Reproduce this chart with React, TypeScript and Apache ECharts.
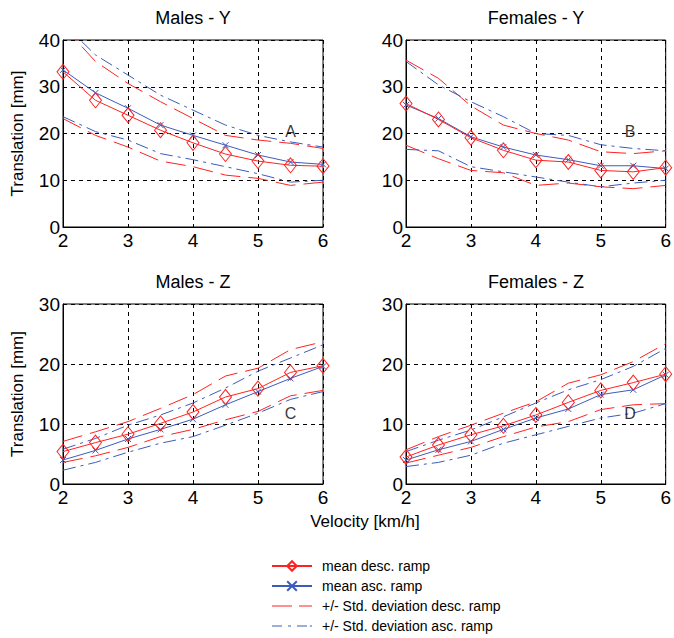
import React, { useEffect, useRef } from "react";
import * as echarts from "echarts";

// Walking velocity steps [km/h]
const VELOCITY = [2, 2.5, 3, 3.5, 4, 4.5, 5, 5.5, 6];

// Males - Y translation [mm]
const MY_DESC_MEAN = [33.2, 27.1, 23.9, 20.7, 18.0, 15.6, 14.1, 13.2, 13.0];
const MY_ASC_MEAN = [33.6, 28.7, 25.4, 21.8, 19.6, 17.5, 15.4, 13.9, 13.4];
const MY_DESC_UP = [43.0, 35.4, 30.7, 26.8, 23.2, 19.6, 18.6, 17.9, 16.8];
const MY_DESC_LO = [23.2, 19.6, 17.1, 14.1, 12.9, 11.1, 10.4, 8.9, 9.6];
const MY_ASC_UP = [43.6, 36.8, 32.5, 28.2, 25.0, 21.8, 19.6, 18.2, 17.1];
const MY_ASC_LO = [23.6, 20.4, 18.6, 15.7, 14.4, 12.9, 11.4, 9.6, 10.0];

// Females - Y translation [mm]
const FY_DESC_MEAN = [26.4, 23.0, 19.1, 16.4, 14.3, 13.9, 12.1, 11.8, 12.7];
const FY_ASC_MEAN = [26.1, 23.2, 19.3, 17.1, 15.4, 14.4, 13.1, 13.1, 12.5];
const FY_DESC_UP = [35.7, 31.8, 25.9, 21.8, 20.0, 18.6, 16.1, 15.7, 16.3];
const FY_DESC_LO = [17.5, 14.6, 12.1, 11.6, 8.9, 9.4, 8.6, 8.2, 8.9];
const FY_ASC_UP = [35.4, 30.4, 26.8, 23.6, 20.0, 19.6, 17.6, 16.8, 16.3];
const FY_ASC_LO = [16.6, 16.3, 12.9, 11.8, 10.7, 9.6, 8.6, 9.4, 10.0];

// Males - Z translation [mm]
const MZ_DESC_MEAN = [5.4, 6.9, 8.3, 10.1, 12.0, 14.5, 15.9, 18.6, 19.7];
const MZ_ASC_MEAN = [4.0, 5.6, 7.5, 9.1, 10.8, 13.2, 15.4, 17.6, 19.6];
const MZ_DESC_UP = [7.1, 8.7, 10.4, 12.6, 14.9, 18.0, 19.3, 22.4, 23.7];
const MZ_DESC_LO = [3.6, 4.7, 6.1, 7.9, 9.1, 10.7, 12.1, 14.7, 15.6];
const MZ_ASC_UP = [5.8, 7.6, 9.8, 11.5, 13.5, 16.0, 18.8, 21.0, 23.2];
const MZ_ASC_LO = [2.3, 3.6, 5.3, 6.8, 7.9, 9.8, 11.8, 14.1, 15.4];

// Females - Z translation [mm]
const FZ_DESC_MEAN = [4.5, 6.5, 8.2, 9.7, 11.5, 13.6, 15.6, 16.9, 18.3];
const FZ_ASC_MEAN = [4.0, 5.7, 7.1, 9.1, 11.0, 12.5, 14.9, 15.7, 18.2];
const FZ_DESC_UP = [5.7, 7.9, 9.8, 11.8, 13.7, 16.8, 18.2, 20.4, 23.4];
const FZ_DESC_LO = [3.5, 4.8, 6.1, 7.9, 9.5, 10.4, 12.4, 13.2, 13.4];
const FZ_ASC_UP = [5.4, 7.3, 9.0, 11.2, 13.5, 15.7, 17.4, 19.6, 22.6];
const FZ_ASC_LO = [2.9, 3.6, 4.8, 6.8, 8.2, 9.6, 11.0, 11.8, 13.4];

const PANEL_TITLES = ["Males - Y", "Females - Y", "Males - Z", "Females - Z"];
const PANEL_TAGS = ["A", "B", "C", "D"];
const TAG_X = [5.5, 5.45, 5.5, 5.45];
const TAG_Y = [20.4, 20.4, 11.8, 11.8];
const Y_MAX = [40, 40, 30, 30];
const X_TICKS = [2, 3, 4, 5, 6];

const PANELS = [
  [MY_DESC_MEAN, MY_ASC_MEAN, MY_DESC_UP, MY_DESC_LO, MY_ASC_UP, MY_ASC_LO],
  [FY_DESC_MEAN, FY_ASC_MEAN, FY_DESC_UP, FY_DESC_LO, FY_ASC_UP, FY_ASC_LO],
  [MZ_DESC_MEAN, MZ_ASC_MEAN, MZ_DESC_UP, MZ_DESC_LO, MZ_ASC_UP, MZ_ASC_LO],
  [FZ_DESC_MEAN, FZ_ASC_MEAN, FZ_DESC_UP, FZ_DESC_LO, FZ_ASC_UP, FZ_ASC_LO],
];

const NAME_DESC_MEAN = "mean desc. ramp";
const NAME_ASC_MEAN = "mean asc. ramp";
const NAME_DESC_SD = "+/- Std. deviation desc. ramp";
const NAME_ASC_SD = "+/- Std. deviation asc. ramp";

const RED = "#ff2222";
const BLUE = "#3c5cbc";
const FONT = "Liberation Sans, Arial, sans-serif";

const GRIDS = [
  { left: 63, top: 40, width: 260, height: 187 },
  { left: 406, top: 40, width: 260, height: 187 },
  { left: 63, top: 304, width: 260, height: 180 },
  { left: 406, top: 304, width: 260, height: 180 },
];

const CROSS = "path://M0,0L10,10M10,0L0,10";
// Legend keys for the deviation lines: dashed and dash-dot strokes
const DASH_ICON = "path://M0,0H20V1.2H0Z M27,0H40V1.2H27Z";
const DASHDOT_ICON = "path://M0,0H10V1.2H0Z M16,0H19V1.2H16Z M25,0H35V1.2H25Z M37.8,0H40V1.2H37.8Z";

function pairs(ys: number[]) {
  return VELOCITY.map((v, i) => [v, ys[i]]);
}

function buildOption() {
  const grid = GRIDS.map((g) => ({
    ...g,
    show: true,
    borderColor: "#000",
    borderWidth: 1,
    backgroundColor: "#fff",
  }));

  const xAxis = GRIDS.map((_, i) => ({
    type: "value",
    gridIndex: i,
    min: X_TICKS[0],
    max: X_TICKS[X_TICKS.length - 1],
    interval: 1,
    axisLine: { show: true, lineStyle: { color: "#000", width: 1 } },
    axisTick: { show: false },
    axisLabel: { color: "#000", fontSize: 19, fontFamily: FONT, margin: 4 },
    splitLine: { show: true, lineStyle: { color: "#000", type: [4, 4], width: 1 } },
  }));

  const yAxis = GRIDS.map((_, i) => ({
    type: "value",
    gridIndex: i,
    min: 0,
    max: Y_MAX[i],
    interval: 10,
    name: i % 2 === 0 ? "Translation [mm]" : "",
    nameLocation: "middle",
    nameGap: 37,
    nameTextStyle: { color: "#000", fontSize: 17, fontFamily: FONT },
    axisLine: { show: true, lineStyle: { color: "#000", width: 1 } },
    axisTick: { show: false },
    axisLabel: { color: "#000", fontSize: 19, fontFamily: FONT, margin: 3 },
    splitLine: { show: true, lineStyle: { color: "#000", type: [4, 4], width: 1 } },
  }));

  const series: any[] = [];
  PANELS.forEach((p, i) => {
    const [descMean, ascMean, descUp, descLo, ascUp, ascLo] = p;
    const base = { type: "line", xAxisIndex: i, yAxisIndex: i, z: 3 };
    const sdDesc = {
      ...base,
      name: NAME_DESC_SD,
      showSymbol: false,
      symbol: "none",
      itemStyle: { color: RED },
      lineStyle: { color: RED, width: 1, type: [20, 8] },
    };
    const sdAsc = {
      ...base,
      name: NAME_ASC_SD,
      showSymbol: false,
      symbol: "none",
      itemStyle: { color: BLUE },
      lineStyle: { color: BLUE, width: 1, type: [13, 5, 3, 5] },
    };
    series.push({ ...sdDesc, data: pairs(descUp) });
    series.push({ ...sdDesc, data: pairs(descLo) });
    series.push({ ...sdAsc, data: pairs(ascUp) });
    series.push({ ...sdAsc, data: pairs(ascLo) });
    series.push({
      ...base,
      name: NAME_ASC_MEAN,
      data: pairs(ascMean),
      symbol: CROSS,
      symbolSize: 6,
      itemStyle: { color: "rgba(0,0,0,0)", borderColor: BLUE, borderWidth: 1 },
      lineStyle: { color: BLUE, width: 1 },
      z: 4,
    });
    series.push({
      ...base,
      name: NAME_DESC_MEAN,
      data: pairs(descMean),
      symbol: "diamond",
      symbolSize: [12, 15],
      itemStyle: { color: "rgba(0,0,0,0)", borderColor: RED, borderWidth: 1 },
      lineStyle: { color: RED, width: 1 },
      z: 5,
    });
    series.push({
      type: "scatter",
      xAxisIndex: i,
      yAxisIndex: i,
      symbolSize: 1,
      itemStyle: { color: "rgba(0,0,0,0)" },
      data: [{ name: PANEL_TAGS[i], value: [TAG_X[i], TAG_Y[i]] }],
      label: {
        show: true,
        position: "inside",
        formatter: "{b}",
        color: "#000",
        fontSize: 16,
        fontFamily: FONT,
      },
      z: 6,
    });
  });

  const graphic: any[] = GRIDS.map((g, i) => ({
    type: "text",
    x: g.left + g.width / 2,
    y: g.top - 22,
    style: {
      text: PANEL_TITLES[i],
      fill: "#000",
      font: `18px ${FONT}`,
      textAlign: "center",
      textVerticalAlign: "middle",
    },
  }));
  graphic.push({
    type: "text",
    x: 365,
    y: 521,
    style: {
      text: "Velocity [km/h]",
      fill: "#000",
      font: `17px ${FONT}`,
      textAlign: "center",
      textVerticalAlign: "middle",
    },
  });

  return {
    animation: false,
    backgroundColor: "#fff",
    grid,
    xAxis,
    yAxis,
    series,
    graphic,
    legend: {
      data: [
        { name: NAME_DESC_MEAN },
        { name: NAME_ASC_MEAN },
        { name: NAME_DESC_SD, icon: DASH_ICON },
        { name: NAME_ASC_SD, icon: DASHDOT_ICON },
      ],
      orient: "vertical",
      left: 271,
      top: 559,
      width: 300,
      height: 120,
      padding: 0,
      itemWidth: 40,
      itemHeight: 12,
      itemGap: 6,
      selectedMode: false,
      textStyle: {
        color: "#000",
        fontSize: 14,
        lineHeight: 12,
        fontFamily: FONT,
        padding: [0, 0, 0, 5],
      },
    },
  };
}

export default function App() {
  const ref = useRef<HTMLDivElement>(null);
  useEffect(() => {
    if (!ref.current) return;
    const chart = echarts.init(ref.current, undefined, { renderer: "svg" });
    chart.setOption(buildOption() as any);
    return () => chart.dispose();
  }, []);
  return (
    <div
      ref={ref}
      style={{ position: "fixed", left: 0, top: 0, width: 674, height: 638, background: "#fff" }}
    />
  );
}
